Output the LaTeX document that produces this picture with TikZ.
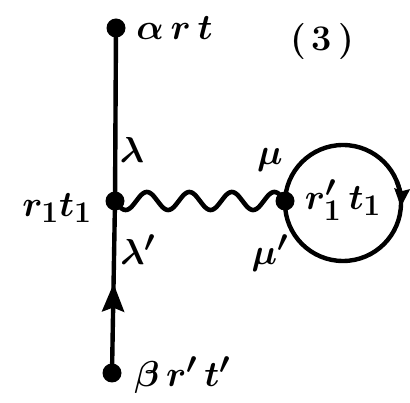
\documentclass[tikz,border=0pt]{standalone}
\usetikzlibrary{arrows.meta,decorations.markings}
\begin{document}
\begin{tikzpicture}[x=1pt,y=1pt,
  dot/.style={circle,fill=black,inner sep=0pt,minimum size=19pt},
  ln/.style={line width=4.4pt},
  lbl/.style={inner sep=0pt,font=\Huge\boldmath\bfseries,scale=1.45}]
\useasboundingbox (0,0) rectangle (410,402);
% vertices
\node[dot] (a) at (116,374) {};
\node[dot] (v) at (115,201) {};
\node[dot] (b) at (112,29) {};
\node[dot] (m) at (285,201) {};
\coordinate (c) at (343,199);
% fermion lines
\draw[ln] (a.center) -- (v.center);
\draw[ln,postaction={decorate},decoration={markings,mark=at position 0.52 with {\arrow{Stealth[length=28pt,width=22pt,inset=4pt]}}}] (b.center) -- (v.center);
% loop
\draw[ln] (c) circle[radius=58];
\draw[ln,-{Stealth[length=18pt,width=15pt,inset=2pt]}] ([shift={(22:58)}]c) arc[start angle=22,end angle=-4,radius=58];
% wavy line
\draw[line width=4.6pt,line join=round] (v.center) -- plot[domain=0:1,samples=161,variable=\t] ({115+170*\t},{201-9*sin(4*360*\t)}) -- (m.center);
% labels
\node[lbl,anchor=west] (la) at (136,374) {$\alpha\,r\,t$};
\node[lbl] (l3) at (322,360) {(\,3\,)};
\node[lbl] (lam) at (132,252) {$\lambda$};
\node[lbl] (mu) at (270,242) {$\mu$};
\node[lbl,anchor=east] (lr) at (92,194) {$r_1t_1$};
\node[lbl] (lamp) at (138,152) {$\lambda'$};
\node[lbl] (mup) at (270,149) {$\mu'$};
\node[lbl] (lin) at (343,202) {$r_1'\,t_1$};
\node[lbl,anchor=west] (lb) at (134,27) {$\beta\,r'\,t'$};
\end{tikzpicture}
\end{document}
